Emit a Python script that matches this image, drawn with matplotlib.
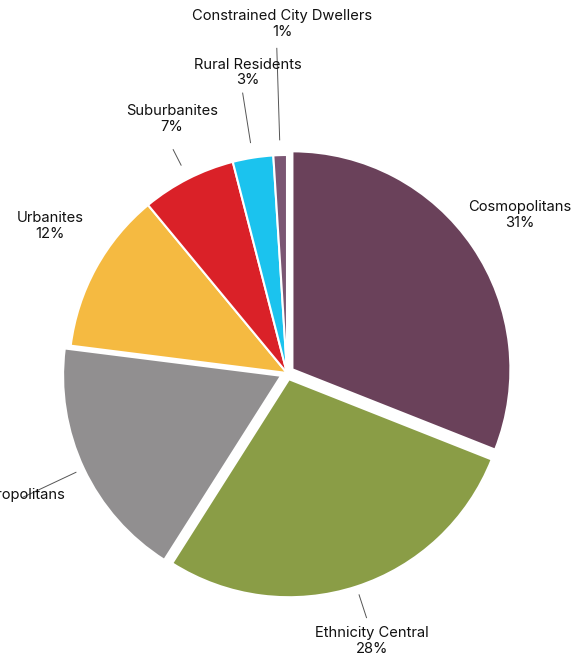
import numpy as np
import matplotlib
matplotlib.use('Agg')
import matplotlib.pyplot as plt

plt.rcParams['font.family'] = ['Inter', 'DejaVu Sans']

segments = ['Cosmopolitans', 'Ethnicity Central', 'Multicultural Metropolitans',
            'Urbanites', 'Suburbanites', 'Rural Residents', 'Constrained City Dwellers']
shares = [31, 28, 18, 12, 7, 3, 1]
colors = ['#6a415a', '#8a9d46', '#918f90', '#f5ba41', '#da2128', '#1bc3ee', '#7b5673']

# label placement (angle offset from slice middle, distance in radii), leader end radius
label_shift = [0, -0.4, -2.8, -3, -2.6, -1.6, -1.0]
label_dist = [1.29, 1.29, 1.56, 1.28, 1.28, 1.39, 1.60]
leader_end = [None, 1.18, 1.34, None, 1.15, 1.30, 1.49]

fig = plt.figure(figsize=(5.85, 6.59), dpi=100)
ax = fig.add_axes([0, 0, 1, 1])

explode = [0.03, 0.03, 0.03, 0, 0, 0, 0]
wedges, _ = ax.pie(shares, colors=colors, startangle=90, counterclock=False,
                   explode=explode, radius=1,
                   wedgeprops=dict(edgecolor='white', linewidth=1.5))

cx, cy, r = 287, 373, 218
ax.set_xlim(-cx / r, (585 - cx) / r)
ax.set_ylim(-(659 - cy) / r, cy / r)
ax.set_aspect('equal')
ax.axis('off')

for w, name, val, sh, d, le in zip(wedges, segments, shares, label_shift, label_dist, leader_end):
    mid = np.deg2rad((w.theta1 + w.theta2) / 2)
    ang = mid + np.deg2rad(sh)
    ax.text(d * np.cos(ang), d * np.sin(ang), f'{name}\n{val}%',
            ha='center', va='center', fontsize=10.6, color='#111111', linespacing=1.15)
    if le is not None:
        ax.plot([1.07 * np.cos(mid), le * np.cos(mid)],
                [1.07 * np.sin(mid), le * np.sin(mid)],
                color='#555555', linewidth=0.7)

fig.savefig('out.png', dpi=100)
